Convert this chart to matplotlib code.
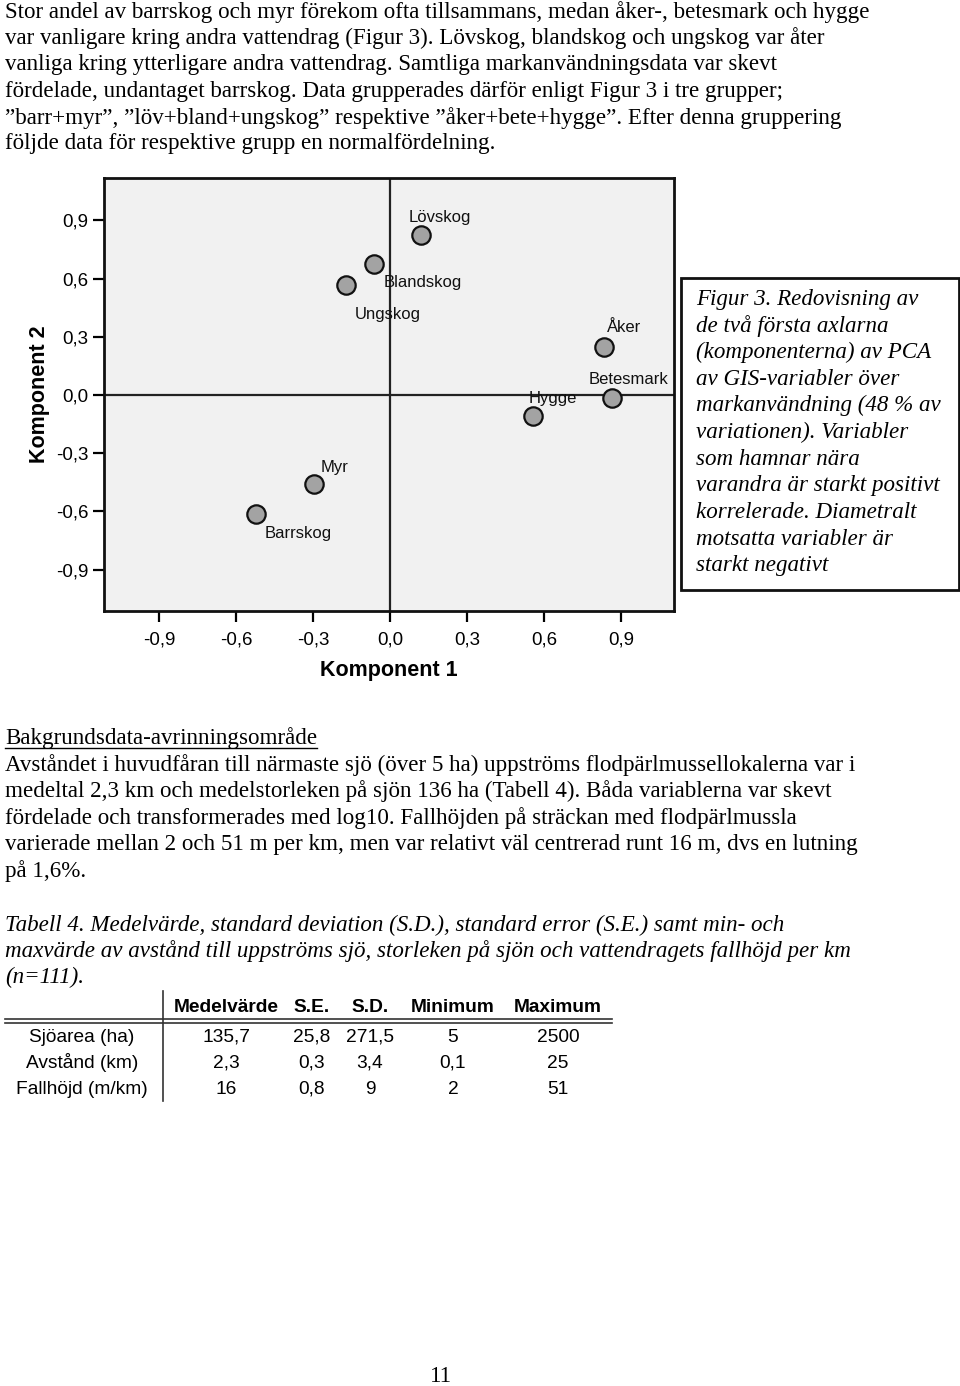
import matplotlib.pyplot as plt
from matplotlib.lines import Line2D
from matplotlib.patches import Rectangle
from matplotlib.ticker import FuncFormatter

W, H = 960, 1386
SERIF = 'Liberation Serif'
SANS = 'Liberation Sans'

# PCA-loadings
variables = ['Lövskog', 'Blandskog', 'Ungskog', 'Åker', 'Betesmark', 'Hygge', 'Myr', 'Barrskog']
komp1 = [0.12, -0.063, -0.173, 0.834, 0.863, 0.557, -0.296, -0.522]
komp2 = [0.825, 0.677, 0.567, 0.249, -0.015, -0.11, -0.459, -0.613]
ticks = [-0.9, -0.6, -0.3, 0.0, 0.3, 0.6, 0.9]

# Tabell 4
col_heads = ['Medelvärde', 'S.E.', 'S.D.', 'Minimum', 'Maximum']
row_heads = ['Sjöarea (ha)', 'Avstånd (km)', 'Fallhöjd (m/km)']
table_vals = [
    ['135,7', '25,8', '271,5', '5', '2500'],
    ['2,3', '0,3', '3,4', '0,1', '25'],
    ['16', '0,8', '9', '2', '51'],
]

intro_lines = [
    'Stor andel av barrskog och myr förekom ofta tillsammans, medan åker-, betesmark och hygge',
    'var vanligare kring andra vattendrag (Figur 3). Lövskog, blandskog och ungskog var åter',
    'vanliga kring ytterligare andra vattendrag. Samtliga markanvändningsdata var skevt',
    'fördelade, undantaget barrskog. Data grupperades därför enligt Figur 3 i tre grupper;',
    '”barr+myr”, ”löv+bland+ungskog” respektive ”åker+bete+hygge”. Efter denna gruppering',
    'följde data för respektive grupp en normalfördelning.',
]
caption_lines = [
    'Figur 3. Redovisning av', 'de två första axlarna', '(komponenterna) av PCA',
    'av GIS-variabler över', 'markanvändning (48 % av', 'variationen). Variabler',
    'som hamnar nära', 'varandra är starkt positivt', 'korrelerade. Diametralt',
    'motsatta variabler är', 'starkt negativt',
]
body_lines = [
    'Avståndet i huvudfåran till närmaste sjö (över 5 ha) uppströms flodpärlmussellokalerna var i',
    'medeltal 2,3 km och medelstorleken på sjön 136 ha (Tabell 4). Båda variablerna var skevt',
    'fördelade och transformerades med log10. Fallhöjden på sträckan med flodpärlmussla',
    'varierade mellan 2 och 51 m per km, men var relativt väl centrerad runt 16 m, dvs en lutning',
    'på 1,6%.',
]
tabell_lines = [
    'Tabell 4. Medelvärde, standard deviation (S.D.), standard error (S.E.) samt min- och',
    'maxvärde av avstånd till uppströms sjö, storleken på sjön och vattendragets fallhöjd per km',
    '(n=111).',
]

# label offsets in pixels (x, y up)
label_offsets = {
    'Lövskog': (19, 18), 'Blandskog': (49, -19), 'Ungskog': (42, -29),
    'Åker': (20, 19), 'Betesmark': (17, 18), 'Hygge': (20, 18),
    'Myr': (21, 17), 'Barrskog': (42, -19),
}


def fx(px):
    return px / W


def fy(py):
    return 1 - py / H


fig = plt.figure(figsize=(W / 100, H / 100), dpi=100)
fig.patch.set_facecolor('white')

body_size = 16.6
for i, line in enumerate(intro_lines):
    fig.text(fx(5), fy(12 + i * 26.4), line, family=SERIF, fontsize=body_size, va='center')

# PCA chart
ax = fig.add_axes([fx(104), fy(611), (674 - 104) / W, (611 - 178) / H])
ax.set_facecolor('#f1f1f1')
ax.set_xlim(-1.114, 1.106)
ax.set_ylim(-1.113, 1.119)
ax.axhline(0, color='#222222', lw=1.6, zorder=1)
ax.axvline(0, color='#222222', lw=1.6, zorder=1)
ax.scatter(komp1, komp2, s=175, facecolor='#a3a3a3', edgecolor='#111111', linewidth=1.6, zorder=3)
for name, x, y in zip(variables, komp1, komp2):
    ax.annotate(name, (x, y), xytext=label_offsets[name], textcoords='offset pixels',
                ha='center', va='center', family=SANS, fontsize=12, color='#111111', zorder=4)

fmt = FuncFormatter(lambda v, p: f'{v:.1f}'.replace('.', ',').replace('-0,0', '0,0'))
ax.set_xticks(ticks)
ax.set_yticks(ticks)
ax.xaxis.set_major_formatter(fmt)
ax.yaxis.set_major_formatter(fmt)
ax.tick_params(axis='x', length=8, width=1.6, pad=6.7, labelsize=13.5)
ax.tick_params(axis='y', length=8, width=1.6, pad=3, labelsize=13.5)
for lab in ax.get_xticklabels() + ax.get_yticklabels():
    lab.set_family(SANS)
for sp in ax.spines.values():
    sp.set_linewidth(2)
    sp.set_color('#111111')
ax.set_xlabel('Komponent 1', family=SANS, fontsize=15.5, fontweight='bold', labelpad=8.5)
ax.set_ylabel('Komponent 2', family=SANS, fontsize=15.5, fontweight='bold', labelpad=4.8)

# caption box
fig.patches.append(Rectangle((fx(681), fy(590)), (959 - 681) / W, (590 - 278) / H,
                             transform=fig.transFigure, fill=False, lw=2, edgecolor='#111111'))
for i, line in enumerate(caption_lines):
    fig.text(fx(696), fy(299 + i * 26.7), line, family=SERIF, style='italic',
             fontsize=body_size, va='center')

# body text
fig.text(fx(5), fy(738), 'Bakgrundsdata-avrinningsområde', family=SERIF, fontsize=body_size, va='center')
fig.lines.append(Line2D([fx(5), fx(317)], [fy(748), fy(748)], transform=fig.transFigure,
                        color='black', lw=1))
for i, line in enumerate(body_lines):
    fig.text(fx(5), fy(765 + i * 26.5), line, family=SERIF, fontsize=body_size, va='center')
for i, line in enumerate(tabell_lines):
    fig.text(fx(5), fy(925 + i * 26.2), line, family=SERIF, style='italic',
             fontsize=body_size, va='center')

# table
col_x = [226, 312, 370, 453, 558]
row_y = [1037, 1063, 1089]
for cx, head in zip(col_x, col_heads):
    fig.text(fx(cx), fy(1007), head, family=SANS, fontweight='bold', fontsize=13.8,
             ha='center', va='center')
for ry, rh, vals in zip(row_y, row_heads, table_vals):
    fig.text(fx(82), fy(ry), rh, family=SANS, fontsize=13.8, ha='center', va='center')
    for cx, v in zip(col_x, vals):
        fig.text(fx(cx), fy(ry), v, family=SANS, fontsize=13.8, ha='center', va='center')
for yy in (1019, 1023):
    fig.lines.append(Line2D([fx(5), fx(612)], [fy(yy), fy(yy)], transform=fig.transFigure,
                            color='#333333', lw=1.2))
fig.lines.append(Line2D([fx(163), fx(163)], [fy(991), fy(1101)], transform=fig.transFigure,
                        color='#333333', lw=1.2))

fig.text(fx(441), fy(1376), '11', family=SERIF, fontsize=body_size, ha='center', va='center')

fig.savefig('out.png', dpi=100)
